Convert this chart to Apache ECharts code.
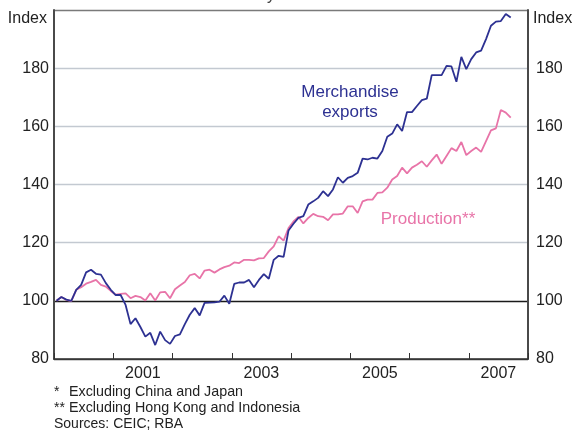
<!DOCTYPE html>
<html>
<head>
<meta charset="utf-8">
<script src="https://cdn.jsdelivr.net/npm/echarts@6/dist/echarts.min.js"></script>
<style>html,body{margin:0;padding:0;background:#fff}#c{width:576px;height:430px}</style>
</head>
<body>
<div id="c"></div>
<script>
// Data: monthly index, January 2000 = 100
var years = ['2000','2001','2002','2003','2004','2005','2006','2007'];
var yTicks = [80, 100, 120, 140, 160, 180, 200];
var exportsIdx = [100,101.3,100.4,100,103.8,105.5,109.8,110.7,109.3,109,106.1,103.8,
  102,102,98.6,92,94,91,87.7,89,84.8,89.4,86.5,85.2,
  87.9,88.5,92,95.2,97.5,95,99.3,99.4,99.5,99.7,101.8,99,
  105.8,106.3,106.3,107.2,104.7,107.2,109.2,107.6,114.1,115.5,115.1,124.2,
  126.5,128.5,129.1,133.1,134.2,135.4,137.7,136,138.3,142.5,140.6,142.3,
  142.9,144,148.9,148.6,149.2,148.9,151.5,156.4,157.5,160.7,158.4,164.9,
  164.9,167,169,169.5,177.6,177.6,177.6,180.8,180.6,175.3,183.9,179.7,
  183.1,185.4,186,190,194.6,196,196.2,198.6,197.4];
var productionIdx = [100,101.3,100.3,99.9,103.8,104.7,105.9,106.5,107.2,105.5,104.9,103.4,
  102.1,102.4,102.6,100.9,101.7,101.3,100.1,102.6,100.1,102.9,103.1,100.9,
  104,105.3,106.5,108.8,109.3,107.7,110.4,110.7,109.7,110.8,111.6,112.1,
  113.2,113,114.1,114.1,113.9,114.6,114.7,117,118.7,122.2,120.7,125,
  127.3,128.9,126.6,128.5,129.9,129.1,128.9,127.7,129.7,129.7,130,132.5,
  132.5,130.2,134.2,134.8,134.8,137.1,137.3,138.9,141.7,142.9,145.8,143.8,
  145.8,146.8,148,146.1,148.3,150.3,147.1,149.8,152.5,151.5,154.6,150.1,
  151.5,152.7,151.2,154.9,158.6,159.3,165.6,164.7,163];

var months = [];
years.forEach(function (y) { for (var m = 1; m <= 12; m++) months.push(y + '-' + (m < 10 ? '0' + m : m)); });

var FONT = 'Liberation Sans, Arial, Helvetica, sans-serif';
var BLUE = '#2d3192';
var PINK = '#e874a8';
var GRID = '#c3c9d1';

var chart = echarts.init(document.getElementById('c'), null, {renderer: 'canvas'});
var yAxisBase = {
  type: 'value', min: yTicks[0], max: yTicks[yTicks.length - 1], interval: 20,
  axisLine: {show: true, lineStyle: {color: '#4a4a4a', width: 2}},
  axisTick: {show: false},
  axisLabel: {
    fontSize: 16, color: '#222', fontFamily: FONT,
    formatter: function (v) { return v === 200 ? '' : String(v); }
  }
};
chart.setOption({
  animation: false,
  backgroundColor: '#fff',
  grid: {left: 54, right: 48, top: 10, bottom: 71, containLabel: false},
  xAxis: [
    {type: 'category', data: months, boundaryGap: true, show: false, position: 'top'},
    {
      type: 'category', data: years, boundaryGap: true, position: 'bottom',
      axisLine: {show: true, lineStyle: {color: '#333', width: 1.5}},
      axisTick: {show: true, inside: true, length: 6, interval: 0, lineStyle: {color: '#333', width: 1}},
      axisLabel: {
        fontSize: 16, color: '#222', fontFamily: FONT, margin: 7,
        interval: function (i) { return i % 2 === 1; }
      },
      splitLine: {show: false}
    }
  ],
  yAxis: [
    Object.assign({}, yAxisBase, {
      position: 'left',
      axisLabel: Object.assign({}, yAxisBase.axisLabel, {margin: 5}),
      splitLine: {show: true, lineStyle: {color: ['#444', '#1a1a1a', GRID, GRID, GRID, GRID, '#7a7a7a'], width: 1.3}}
    }),
    Object.assign({}, yAxisBase, {
      position: 'right',
      axisLabel: Object.assign({}, yAxisBase.axisLabel, {margin: 8}),
      splitLine: {show: false}
    })
  ],
  series: [
    {
      name: 'Production**', type: 'line', xAxisIndex: 0, yAxisIndex: 0,
      data: productionIdx, showSymbol: false, symbol: 'none',
      lineStyle: {color: PINK, width: 1.8}, z: 3
    },
    {
      name: 'Merchandise exports', type: 'line', xAxisIndex: 0, yAxisIndex: 0,
      data: exportsIdx, showSymbol: false, symbol: 'none',
      lineStyle: {color: BLUE, width: 1.8}, z: 4
    }
  ],
  graphic: [
    {type: 'text', style: {text: 'January 2000 = 100', x: 289, y: 4, align: 'center', verticalAlign: 'bottom', fontSize: 16, fontFamily: FONT, fill: '#444'}},
    {type: 'text', style: {text: 'Index', x: 47, y: 19, align: 'right', verticalAlign: 'middle', fontSize: 16, fontFamily: FONT, fill: '#222'}},
    {type: 'text', style: {text: 'Index', x: 533, y: 19, align: 'left', verticalAlign: 'middle', fontSize: 16, fontFamily: FONT, fill: '#222'}},
    {type: 'text', style: {text: 'Merchandise\nexports', x: 350, y: 102, align: 'center', verticalAlign: 'middle', lineHeight: 20, fontSize: 17, fontFamily: FONT, fill: BLUE}},
    {type: 'text', style: {text: 'Production**', x: 428, y: 219, align: 'center', verticalAlign: 'middle', fontSize: 17, fontFamily: FONT, fill: PINK}},
    {type: 'text', style: {text: '*', x: 54, y: 392, verticalAlign: 'middle', fontSize: 14, fontFamily: FONT, fill: '#222'}},
    {type: 'text', style: {text: 'Excluding China and Japan', x: 69, y: 392, verticalAlign: 'middle', fontSize: 14.3, fontFamily: FONT, fill: '#222'}},
    {type: 'text', style: {text: '**', x: 54, y: 408, verticalAlign: 'middle', fontSize: 14, fontFamily: FONT, fill: '#222'}},
    {type: 'text', style: {text: 'Excluding Hong Kong and Indonesia', x: 69, y: 408, verticalAlign: 'middle', fontSize: 14.3, fontFamily: FONT, fill: '#222'}},
    {type: 'text', style: {text: 'Sources: CEIC; RBA', x: 54, y: 424, verticalAlign: 'middle', fontSize: 14, fontFamily: FONT, fill: '#222'}}
  ]
});
</script>
</body>
</html>
